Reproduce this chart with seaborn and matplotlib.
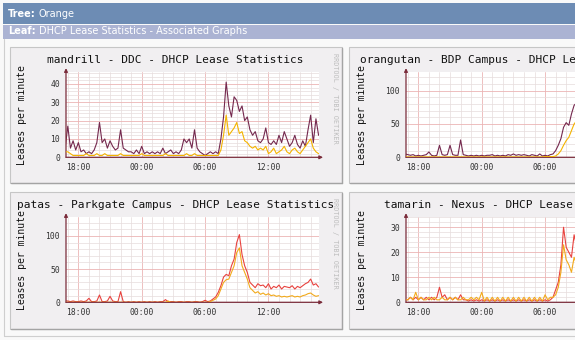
import numpy as np
import pandas as pd
import matplotlib
matplotlib.use("Agg")
import matplotlib.pyplot as plt
import matplotlib.dates as mdates
from matplotlib.ticker import MultipleLocator, FormatStrFormatter
from matplotlib.patches import Rectangle
from matplotlib.lines import Line2D
import seaborn as sns

# ---------------- data (leases per minute, 15-minute samples from 16:45) ----------------
mandrill_total = [5,
    17, 5, 9, 4, 8, 3, 4, 2, 3, 2, 4, 8, 19, 8, 10, 5, 9, 6, 4, 5, 15, 5, 4, 3,
    3, 2, 4, 2, 6, 2, 3, 2, 3, 2, 3, 2, 5, 2, 3, 4, 2, 3, 2, 4, 10, 8, 10, 5,
    15, 5, 3, 2, 1, 2, 3, 2, 3, 2, 10, 22, 41, 28, 22, 33, 31, 25, 28, 20, 22, 15, 12, 14,
    9, 8, 10, 16, 8, 7, 9, 7, 12, 8, 14, 10, 6, 8, 12, 7, 5, 9, 6, 15, 23, 8, 21, 12]
mandrill_sub = [3,
    3, 2, 1, 1, 1, 1, 1, 2, 1, 1, 1, 2, 1, 1, 2, 1, 1, 1, 1, 1, 2, 1, 1, 1,
    1, 1, 1, 1, 2, 1, 1, 1, 1, 1, 1, 1, 1, 2, 1, 1, 1, 1, 1, 1, 1, 2, 1, 1,
    2, 1, 1, 1, 1, 1, 1, 1, 1, 1, 4, 12, 23, 12, 14, 16, 19, 13, 14, 9, 8, 6, 5, 6,
    4, 5, 4, 6, 2, 3, 5, 2, 3, 4, 6, 3, 2, 4, 5, 3, 2, 4, 6, 8, 10, 5, 3, 2]

orangutan_total = [5,
    4, 3, 4, 2, 3, 2, 3, 4, 8, 3, 2, 3, 18, 4, 3, 4, 18, 4, 3, 3, 26, 4, 3, 2,
    3, 2, 3, 2, 3, 2, 3, 3, 4, 2, 3, 2, 3, 2, 4, 3, 5, 3, 4, 3, 4, 3, 2, 4,
    3, 2, 5, 2, 3, 2, 4, 5, 10, 18, 28, 45, 52, 48, 65, 78, 82]
orangutan_sub = [0.5,
    0.5, 0.5, 0.5, 0.5, 0.5, 0.5, 0.5, 0.5, 0.5, 0.5, 0.5, 0.5, 0.5, 0.5, 0.5, 0.5,
    0.5, 0.5, 0.5, 0.5, 0.5, 0.5, 0.5, 0.5, 0.5, 0.5, 0.5, 0.5, 0.5, 0.5, 0.5, 0.5,
    0.5, 0.5, 0.5, 0.5, 0.5, 0.5, 0.5, 0.5, 0.5, 0.5, 0.5, 0.5, 0.5, 0.5, 0.5, 0.5,
    0.5, 0.5, 0.5, 0.5, 1, 1, 1, 1, 2, 5, 10, 18, 25, 30, 40, 50, 55]

patas_total = [2,
    2, 1, 2, 1, 1, 2, 1, 2, 6, 1, 1, 2, 11, 1, 1, 2, 9, 2, 1, 1, 16, 1, 0, 1,
    0, 1, 0, 1, 0, 1, 0, 1, 0, 1, 0, 1, 1, 4, 1, 1, 1, 0, 1, 1, 0, 1, 1, 0,
    1, 1, 0, 1, 3, 1, 2, 5, 8, 15, 25, 38, 42, 40, 55, 65, 90, 102, 72, 55, 45, 30, 26, 22,
    28, 25, 26, 22, 28, 20, 24, 22, 26, 20, 24, 23, 22, 25, 20, 24, 22, 25, 28, 30, 35, 26, 28, 23]
patas_sub = [0,
    0, 0, 0, 0, 0, 0, 0, 0, 0, 0, 0, 0, 0, 0, 0, 0, 0, 0, 0, 0, 0, 0, 0, 0,
    0, 0, 0, 0, 0, 0, 0, 0, 0, 0, 0, 0, 0, 0, 2, 0, 0, 0, 0, 0, 0, 0, 0, 0,
    0, 0, 0, 0, 0, 0, 1, 3, 5, 10, 20, 30, 34, 35, 45, 55, 75, 82, 55, 45, 35, 22, 18, 14,
    16, 12, 14, 11, 13, 10, 11, 9, 10, 8, 9, 8, 9, 10, 8, 9, 8, 10, 11, 13, 14, 11, 9, 10]

tamarin_total = [1,
    1, 2, 1, 2, 1, 2, 1, 2, 1, 2, 1, 2, 6, 2, 3, 1, 2, 1, 2, 1, 3, 1, 1, 0.5,
    1, 0.5, 1, 0.5, 1, 0.5, 1, 0.5, 1, 0.5, 1, 0.5, 1, 0.5, 1, 0.5, 1, 0.5, 1, 0.5,
    1, 0.5, 1, 0.5, 1, 0.5, 1, 0.5, 1, 0.5, 1, 2, 5, 8, 15, 30, 22, 20, 18, 27, 22]
tamarin_sub = [1,
    1, 2, 1, 4, 1, 2, 1, 1, 2, 1, 2, 1, 1, 2, 1, 1, 2, 1, 2, 1, 1, 2, 1, 1,
    2, 1, 2, 1, 4, 0.5, 2, 0.5, 2, 0.5, 2, 0.5, 2, 0.5, 2, 0.5, 2, 0.5, 2, 0.5,
    2, 0.5, 2, 0.5, 2, 0.5, 2, 0.5, 3, 1, 2, 2, 3, 6, 12, 23, 17, 15, 12, 18, 15]

titles = ["mandrill - DDC - DHCP Lease Statistics",
          "orangutan - BDP Campus - DHCP Lease Statistics",
          "patas - Parkgate Campus - DHCP Lease Statistics",
          "tamarin - Nexus - DHCP Lease Statistics"]
tree_name = "Orange"
leaf_name = "DHCP Lease Statistics - Associated Graphs"
y_label = "Leases per minute"
watermark = "RRDTOOL / TOBI OETIKER"

# ---------------- figure ----------------
sns.set_theme(style="white")
plt.rcParams["font.family"] = ["DejaVu Sans"]
MONO = "DejaVu Sans Mono"

W, H = 575, 340
fig = plt.figure(figsize=(W / 100, H / 100), dpi=100)
fig.patch.set_facecolor("#f9f9f9")
renderer = fig.canvas.get_renderer()


def fx(x):
    return x / W


def fy(y):
    return 1 - y / H


def prect(x0, y0, x1, y1, **kw):
    r = Rectangle((fx(x0), fy(y1)), fx(x1) - fx(x0), (y1 - y0) / H,
                  transform=fig.transFigure, **kw)
    fig.add_artist(r)
    return r


def pline(xs, ys, **kw):
    fig.add_artist(Line2D([fx(v) for v in xs], [fy(v) for v in ys],
                          transform=fig.transFigure, **kw))


def header_text(y, key, value, size):
    t = fig.text(fx(8), fy(y), key, color="white", fontsize=size,
                 fontweight="bold", va="center")
    x1 = t.get_window_extent(renderer).x1
    fig.text((x1 + 3) / W, fy(y), value, color="white", fontsize=size, va="center")


# header bars
prect(3, 3, 580, 23.5, facecolor="#6d8cb4", edgecolor="none", zorder=-5)
prect(3, 24.5, 580, 39, facecolor="#abb3d3", edgecolor="none", zorder=-5)
header_text(14, "Tree:", tree_name, 7.0)
header_text(31.5, "Leaf:", leaf_name, 7.0)

# outer table border
pline([4, 4], [39, 336], color="#cfcfcf", lw=0.8, zorder=-4)
pline([4, 580], [336, 336], color="#cfcfcf", lw=0.8, zorder=-4)

# panels
for (x0, y0, x1, y1) in [(10, 47, 342, 183), (349, 47, 600, 183),
                         (10, 192, 342, 329), (349, 192, 600, 329)]:
    prect(x0, y0, x1, y1, facecolor="#f1eff1", edgecolor="#c6c6c6", lw=0.8, zorder=-4)
    pline([x0 + 1, x1], [y1, y1], color="#a4a4a4", lw=1.0, zorder=-3)
    pline([x1, x1], [y0 + 1, y1], color="#a4a4a4", lw=1.0, zorder=-3)

t0 = pd.Timestamp("2011-03-01 18:00")
start = pd.Timestamp("2011-03-01 16:45")
xlim = (mdates.date2num(t0 - pd.Timedelta(hours=1.17)),
        mdates.date2num(t0 + pd.Timedelta(hours=22.79)))

panels = [
    # title, total, sub, colors, axis-left px, zero-line px, ymax, major, minor
    (titles[0], mandrill_total, mandrill_sub, ("#74284e", "#f4b400"), 66, 157.3, 46.5, 10, 2),
    (titles[1], orangutan_total, orangutan_sub, ("#74284e", "#f4b400"), 406, 157.3, 128, 50, 10),
    (titles[2], patas_total, patas_sub, ("#e8423e", "#f2aa1c"), 66, 302.3, 128.5, 50, 10),
    (titles[3], tamarin_total, tamarin_sub, ("#e8423e", "#f2aa1c"), 406, 302.3, 34.1, 10, 2),
]

AX_W = 253
AX_H = 85.3
for title, tot, sub, (c1, c2), left, zero, ymax, ymaj, ymin in panels:
    ax = fig.add_axes([fx(left), fy(zero), AX_W / W, AX_H / H])
    ax.set_facecolor("white")
    times = pd.date_range(start, periods=len(tot), freq="15min")
    df = pd.DataFrame({"time": times, "total": tot, "sub": sub})
    sns.lineplot(data=df, x="time", y="total", ax=ax, color=c1, lw=0.8, zorder=3)
    sns.lineplot(data=df, x="time", y="sub", ax=ax, color=c2, lw=0.8, zorder=4)
    ax.set_xlim(*xlim)
    ax.set_ylim(0, ymax)
    ax.xaxis.set_major_locator(mdates.HourLocator(byhour=[0, 6, 12, 18]))
    ax.xaxis.set_minor_locator(mdates.HourLocator())
    ax.xaxis.set_major_formatter(mdates.DateFormatter("%H:%M"))
    ax.yaxis.set_major_locator(MultipleLocator(ymaj))
    ax.yaxis.set_minor_locator(MultipleLocator(ymin))
    ax.yaxis.set_major_formatter(FormatStrFormatter("%d"))
    ax.grid(which="minor", color="#e6dcdc", lw=0.5)
    ax.grid(which="major", color="#ebb4b4", lw=0.6)
    ax.set_axisbelow(True)
    for s in ax.spines.values():
        s.set_visible(False)
    ax.tick_params(which="both", length=0, labelsize=5.8, colors="#333333")
    ax.tick_params(axis="y", pad=4.3)
    ax.tick_params(axis="x", pad=4.2)
    for lab in ax.get_xticklabels() + ax.get_yticklabels():
        lab.set_family(MONO)
    ax.set_xlabel("")
    ax.set_ylabel("")
    # axis lines with arrows
    ax.annotate("", xy=(1.016, 0), xytext=(0, 0), xycoords="axes fraction",
                arrowprops=dict(arrowstyle="-|>", color="#7a2b3a", lw=0.9,
                                mutation_scale=5, shrinkA=0, shrinkB=0), annotation_clip=False)
    ax.annotate("", xy=(0, 1.045), xytext=(0, 0), xycoords="axes fraction",
                arrowprops=dict(arrowstyle="-|>", color="#7a2b3a", lw=0.9,
                                mutation_scale=5, shrinkA=0, shrinkB=0), annotation_clip=False)
    # titles / labels
    off = left - 66
    top = zero - 157.3
    fig.text(fx(175.5 + off), fy(60 + top), title, family=MONO, fontsize=8,
             ha="center", va="center", color="#111111")
    fig.text(fx(22 + off), fy(115 + top), y_label, family=MONO, fontsize=7,
             rotation=90, ha="center", va="center", color="#111111")
    fig.text(fx(334.5 + off), fy(98 + top), watermark, family=MONO, fontsize=4.9,
             rotation=270, ha="center", va="center", color="#bdbdbd")

fig.savefig("out.png", dpi=100)
